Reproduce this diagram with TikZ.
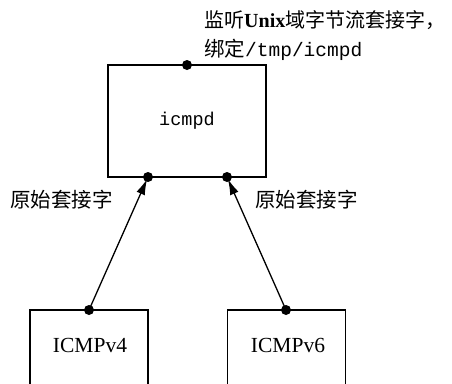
\documentclass[tikz,border=0pt]{standalone}
\usepackage{fontspec}
\setmainfont{Liberation Serif}
\setmonofont{Liberation Mono}
\newfontfamily\cjk{Noto Sans CJK SC}
\usetikzlibrary{arrows.meta}
\begin{document}
\begin{tikzpicture}[x=1pt,y=-1pt,
  boxline/.style={line width=1.5pt},
  sockdot/.style={circle,fill=black,inner sep=0pt,minimum size=10pt},
  lbl/.style={inner sep=0pt,font=\fontsize{20.5}{24}\selectfont\cjk},
  arr/.style={line width=1.3pt,-{Latex[length=16pt,width=9pt]},shorten >=2pt}]
\useasboundingbox (0,0) rectangle (452,383);
% main box
\node[draw,boxline,minimum width=158pt,minimum height=112pt,inner sep=0pt,
  font=\fontsize{18.5}{20}\selectfont\ttfamily] (icmpd) at (187,121) {icmpd};
% small boxes (open bottom)
\node[minimum width=118pt,minimum height=78pt,inner sep=0pt,anchor=north] (v4) at (89,310) {};
\node[minimum width=118pt,minimum height=78pt,inner sep=0pt,anchor=north] (v6) at (286.5,310) {};
\draw[boxline] (v4.south west) |- (v4.north) -| (v4.south east);
\draw[boxline] (v6.south west) |- (v6.north) -| (v6.south east);
\node[font=\fontsize{21.5}{24}\selectfont,inner sep=0pt] (t4) at (90,345) {ICMPv4};
\node[font=\fontsize{21.5}{24}\selectfont,inner sep=0pt] (t6) at (288,345) {ICMPv6};
% dots
\node[sockdot] (dtop) at (187,65) {};
\node[sockdot] (da) at (148,177) {};
\node[sockdot] (db) at (227,177) {};
\node[sockdot] (d4) at (89,310) {};
\node[sockdot] (d6) at (286,310) {};
% arrows
\draw[arr] (d4.center) -- (da.center);
\draw[arr] (d6.center) -- (db.center);
% labels
\node[lbl,anchor=west,font=\fontsize{20}{24}\selectfont\cjk] (l1) at (204,20) {监听{\rmfamily\bfseries Unix}域字节流套接字，};
\node[lbl,anchor=west] (l2) at (204,50) {绑定{\fontsize{19.5}{22}\selectfont\ttfamily /tmp/icmpd}};
\node[lbl,anchor=west] (ra) at (10,200) {原始套接字};
\node[lbl,anchor=west] (rb) at (255,200) {原始套接字};
\end{tikzpicture}
\end{document}
